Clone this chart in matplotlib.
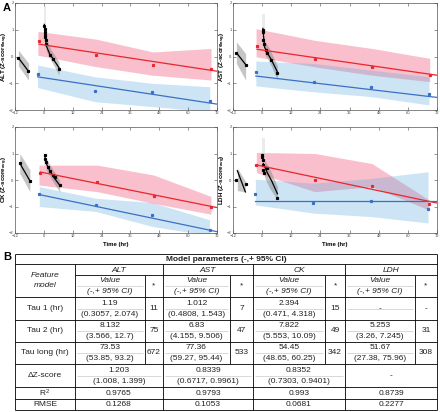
import matplotlib
matplotlib.use("Agg")
import matplotlib.pyplot as plt
import numpy as np

plt.rcParams['font.family'] = ['Liberation Sans', 'DejaVu Sans']
plt.rcParams['mathtext.default'] = 'regular'

# ---------------- data (panel A) ----------------
features = ["ALT", "AST", "CK", "LDH"]
x_ticks = [-12, 0, 12, 24, 36, 48, 60, 72]
y_ticks = [-2, -1, 0, 1, 2]

# pre-period segment (gray band + black line)
pre_t = {"ALT": [-10.6, -6.4], "AST": [-10.6, -6.8], "CK": [-10.0, -5.8], "LDH": [-10.2, -6.9]}
pre_y = {"ALT": [-0.05, -0.55], "AST": [0.14, -0.30], "CK": [0.63, -0.03], "LDH": [0.35, -0.45]}
pre_lo = {"ALT": [-0.35, -0.88], "AST": [-0.26, -0.88], "CK": [0.25, -0.44], "LDH": [-0.40, -0.45]}
pre_hi = {"ALT": [0.24, -0.25], "AST": [0.55, 0.11], "CK": [1.00, 0.38], "LDH": [0.45, -0.05]}
pre_pts_t = {"ALT": [-10.6, -6.4], "AST": [-10.6, -6.8], "CK": [-10.0, -5.8], "LDH": [-10.6, -6.5]}
pre_pts_y = {"ALT": [-0.05, -0.55], "AST": [0.14, -0.30], "CK": [0.63, -0.03], "LDH": [0.00, -0.15]}

# early black series (0-6 h)
blk_t = {
    "ALT": [0.2, 0.3, 0.4, 0.5, 0.6, 0.8, 1.0, 2.5, 3.8, 6.3],
    "AST": [0.2, 0.3, 0.5, 0.7, 1.5, 2.2, 3.8, 6.3],
    "CK": [0.3, 0.5, 0.7, 1.8, 2.6, 3.6, 4.6, 6.6],
    "LDH": [0.1, 0.1, 0.3, 0.3, 0.5, 0.6, 1.8, 6.2],
}
blk_y = {
    "ALT": [1.15, 1.02, 0.90, 0.82, 0.74, 0.62, 0.48, 0.05, -0.10, -0.45],
    "AST": [1.00, 0.92, 0.63, 0.48, 0.23, 0.14, -0.14, -0.60],
    "CK": [0.94, 0.81, 0.69, 0.50, 0.35, 0.19, 0.10, -0.19],
    "LDH": [0.96, 0.88, 0.75, 0.56, 0.38, 0.25, 0.44, -0.69],
}
blk_fit_t = {"ALT": [0.2, 1.0, 2.5, 3.8, 6.3], "AST": [0.3, 1.0, 2.2, 3.8, 6.3],
             "CK": [0.3, 1.0, 2.6, 4.0, 6.6], "LDH": [0.5, 2.0, 4.0, 6.3]}
blk_fit_y = {"ALT": [1.20, 0.40, 0.08, -0.08, -0.42], "AST": [1.05, 0.35, 0.12, -0.12, -0.58],
             "CK": [0.95, 0.62, 0.33, 0.12, -0.20], "LDH": [0.62, 0.30, -0.05, -0.52]}
blk_band_t = {"ALT": [1.0, 3.0, 6.3], "AST": [1.0, 3.0, 6.3], "CK": [1.0, 3.0, 6.6], "LDH": [1.0, 3.0, 6.3]}
blk_band_lo = {"ALT": [0.20, -0.15, -0.70], "AST": [0.10, -0.20, -0.88], "CK": [0.40, 0.05, -0.45], "LDH": [0.10, -0.30, -0.75]}
blk_band_hi = {"ALT": [0.70, 0.25, -0.20], "AST": [0.60, 0.30, -0.35], "CK": [0.80, 0.50, 0.00], "LDH": [0.75, 0.45, -0.25]}
spike_lo = {"ALT": 0.3, "AST": 0.3, "CK": 0.5, "LDH": 0.3}   # faint CI near t=0
spike_hi = {"ALT": 1.9, "AST": 1.6, "CK": 1.0, "LDH": 1.6}

# red group
red_t = {"ALT": [-2.0, 21.7, 45.3, 69.5], "AST": [-2.1, 21.9, 45.3, 69.0],
         "CK": [-1.4, 22.2, 45.6, 69.5], "LDH": [-2.4, 21.7, 45.2, 68.7]}
red_y = {"ALT": [0.57, 0.04, -0.30, -0.48], "AST": [0.40, -0.10, -0.39, -0.70],
         "CK": [0.28, -0.09, -0.59, -1.02], "LDH": [0.56, 0.00, -0.21, -0.91]}
red_fit_y0 = {"ALT": 0.46, "AST": 0.27, "CK": 0.30, "LDH": 0.57}
red_fit_y1 = {"ALT": -0.55, "AST": -0.70, "CK": -1.04, "LDH": -0.87}
red_band_t = {"ALT": [-2.5, 21.7, 45.3, 69.5], "AST": [-2.5, 21.9, 45.3, 69.0],
              "CK": [-2.0, 22.2, 45.6, 69.5], "LDH": [-2.4, 21.7, 45.2, 68.7]}
red_band_lo = {"ALT": [0.05, -0.38, -0.70, -0.88], "AST": [-0.01, -0.39, -0.70, -0.94],
               "CK": [-0.19, -0.44, -0.88, -1.29], "LDH": [0.28, -0.44, -0.25, -1.13]}
red_band_hi = {"ALT": [0.94, 0.65, 0.17, 0.30], "AST": [1.04, 0.60, 0.30, -0.07],
               "CK": [0.56, 0.56, 0.19, -0.62], "LDH": [1.04, 1.00, 0.62, -0.75]}

# blue group
blue_t = {"ALT": [-2.6, 21.3, 44.9, 69.0], "AST": [-2.6, 21.2, 44.9, 68.7],
          "CK": [-1.9, 21.7, 45.0, 68.9], "LDH": [-2.8, 21.1, 44.8, 68.3]}
blue_y = {"ALT": [-0.66, -1.28, -1.34, -1.65], "AST": [-0.58, -0.94, -1.13, -1.40],
          "CK": [-0.52, -0.94, -1.31, -1.88], "LDH": [-0.52, -0.88, -0.79, -1.09]}
blue_fit_y0 = {"ALT": -0.76, "AST": -0.73, "CK": -0.55, "LDH": -0.81}
blue_fit_y1 = {"ALT": -1.78, "AST": -1.53, "CK": -1.95, "LDH": -0.81}
blue_band_t = blue_t
blue_band_lo = {"ALT": [-1.16, -1.69, -1.87, -2.06], "AST": [-1.10, -1.32, -1.50, -1.81],
                "CK": [-1.00, -1.19, -1.75, -2.10], "LDH": [-0.94, -1.25, -1.38, -1.62]}
blue_band_hi = {"ALT": [-0.32, -0.76, -1.00, -1.13], "AST": [-0.17, -0.26, -0.51, -0.76],
                "CK": [-0.25, -0.69, -0.85, -1.50], "LDH": [0.03, -0.12, 0.06, 0.31]}

# ---------------- data (panel B table) ----------------
row_labels = ["Tau 1 (hr)", "Tau 2 (hr)", "Tau long (hr)", "\u0394Z-score", "R$^2$", "RMSE"]
tau1_val = ["1.19", "1.012", "2.394", "-"]
tau1_ci = ["(0.3057, 2.074)", "(0.4808, 1.543)", "(0.471, 4.318)", ""]
tau1_n = ["11", "7", "15", "-"]
tau2_val = ["8.132", "6.83", "7.822", "5.253"]
tau2_ci = ["(3.566, 12.7)", "(4.155, 9.506)", "(5.553, 10.09)", "(3.26, 7.245)"]
tau2_n = ["75", "47", "49", "31"]
taul_val = ["73.53", "77.36", "54.45", "51.67"]
taul_ci = ["(53.85, 93.2)", "(59.27, 95.44)", "(48.65, 60.25)", "(27.38, 75.96)"]
taul_n = ["672", "533", "342", "308"]
dz_val = ["1.203", "0.8339", "0.8352", "-"]
dz_ci = ["(1.008, 1.399)", "(0.6717, 0.9961)", "(0.7303, 0.9401)", ""]
r2_val = ["0.9765", "0.9793", "0.993", "0.8739"]
rmse_val = ["0.1268", "0.1053", "0.0681", "0.2277"]

# ---------------- figure ----------------
W, H = 440, 412
fig = plt.figure(figsize=(W / 100, H / 100), dpi=100)

RED = "#e8262b"
BLUE = "#3b6fc6"
PINK = "#f0446a"
LBLUE = "#5aa8dc"

pos_px = {"ALT": (15, 3, 202, 107), "AST": (233, 3, 204, 107),
          "CK": (15, 127, 202, 106), "LDH": (233, 127, 204, 106)}

for f in features:
    l, t, w, h = pos_px[f]
    ax = fig.add_axes([l / W, 1 - (t + h) / H, w / W, h / H])
    ax.set_xlim(x_ticks[0], x_ticks[-1])
    ax.set_ylim(y_ticks[0], y_ticks[-1])
    # pink / blue bands
    ax.fill_between(red_band_t[f], red_band_lo[f], red_band_hi[f], color=PINK, alpha=0.34, lw=0)
    ax.fill_between(blue_band_t[f], blue_band_lo[f], blue_band_hi[f], color=LBLUE, alpha=0.30, lw=0)
    # pre band
    ax.fill_between(pre_t[f], pre_lo[f], pre_hi[f], color="#808080", alpha=0.45, lw=0)
    ax.plot(pre_t[f], pre_y[f], color="black", lw=0.9)
    ax.plot(pre_pts_t[f], pre_pts_y[f], 's', color="black", ms=1.3)
    # early black
    ax.fill_between([0.0, 1.0], [spike_lo[f]] * 2, [spike_hi[f]] * 2, color="#c8c8c8", alpha=0.35, lw=0)
    ax.fill_between(blk_band_t[f], blk_band_lo[f], blk_band_hi[f], color="#808080", alpha=0.45, lw=0)
    ax.plot(blk_fit_t[f], blk_fit_y[f], color="black", lw=0.9)
    ax.plot(blk_t[f], blk_y[f], 's', color="black", ms=1.3)
    # fitted lines
    ax.plot([red_t[f][0], x_ticks[-1]], [red_fit_y0[f], red_fit_y1[f]], color=RED, lw=0.9)
    ax.plot([blue_t[f][0], x_ticks[-1]], [blue_fit_y0[f], blue_fit_y1[f]], color=BLUE, lw=0.9)
    ax.plot(red_t[f], red_y[f], 's', color=RED, ms=1.3)
    ax.plot(blue_t[f], blue_y[f], 's', color=BLUE, ms=1.3)

    ax.set_xticks(x_ticks)
    ax.set_yticks(y_ticks)
    ax.tick_params(direction="in", length=2, width=0.4, labelsize=3.0, pad=1.0,
                   top=True, right=True, colors="#444444")
    for s in ax.spines.values():
        s.set_linewidth(0.5)
        s.set_color("#555555")
    ax.set_ylabel(f + " (Z-score$_{avg}$)", fontsize=4.5, fontweight="bold")
    ax.yaxis.set_label_coords(-0.024, 0.5)
    if f in ("CK", "LDH"):
        ax.set_xlabel("Time (hr)", fontsize=4.3, fontweight="bold", labelpad=2.5)

fig.text(3 / W, 1 - 8 / H, "A", fontsize=8, fontweight="bold", va="center", ha="left")
fig.text(3 / W, 1 - 257 / H, "B", fontsize=8, fontweight="bold", va="center", ha="left")

# ---------------- table ----------------
tx = fig.add_axes([0, 0, 1, 1])
tx.set_xlim(0, W)
tx.set_ylim(H, 0)
tx.axis("off")

cols = [15, 75, 145, 163, 230, 253, 325, 345, 415, 437]
rows = [254, 264, 275, 297, 320, 342, 364, 387, 399, 410]
LW = 0.6
FS = 6.0
DARK = "#222222"
GRID = "#bbbbbb"

def hline(y, x0, x1, c="black", lw=LW):
    tx.plot([x0, x1], [y, y], color=c, lw=lw, solid_capstyle="butt")

def vline(x, y0, y1, c="black", lw=LW):
    tx.plot([x, x], [y0, y1], color=c, lw=lw, solid_capstyle="butt")

# outer box
hline(rows[0], cols[0], cols[-1])
hline(rows[-1], cols[0], cols[-1])
vline(cols[0], rows[0], rows[-1])
vline(cols[-1], rows[0], rows[-1])
# horizontal row lines
hline(rows[1], cols[0], cols[-1])
hline(rows[2], cols[1], cols[-1])
for r in rows[3:-1]:
    hline(r, cols[0], cols[-1])
# feature group verticals
for c in (cols[1], cols[3], cols[5], cols[7]):
    vline(c, rows[1], rows[-1])
# value/* split verticals in rows 3..6
for c in (cols[2], cols[4], cols[6], cols[8]):
    vline(c, rows[2], rows[6])

# faint inner separators
value_cols = [(cols[1], cols[2]), (cols[3], cols[4]), (cols[5], cols[6]), (cols[7], cols[8])]
group_cols = [(cols[1], cols[3]), (cols[3], cols[5]), (cols[5], cols[7]), (cols[7], cols[9])]
for (a, b) in value_cols:
    for r0, r1 in zip(rows[2:6], rows[3:7]):
        hline((r0 + r1) / 2, a + 2, b - 2, c=GRID, lw=0.4)
for (a, b) in group_cols[:3]:
    hline((rows[6] + rows[7]) / 2, a + 2, b - 2, c=GRID, lw=0.4)

def txt(x, y, s, **kw):
    tx.text(x, y, s, ha="center", va="center", fontsize=FS, color=DARK, **kw)

txt((cols[0] + cols[-1]) / 2, (rows[0] + rows[1]) / 2 + 0.5, "Model parameters (-,+ 95% CI)",
    fontweight="bold")
txt((cols[0] + cols[1]) / 2, (rows[1] + rows[3]) / 2, "Feature\nmodel", style="italic",
    linespacing=1.5)
for i, f in enumerate(features):
    a, b = group_cols[i]
    txt((a + b) / 2, (rows[1] + rows[2]) / 2 + 0.5, f, style="italic")
    va, vb = value_cols[i]
    cx = (va + vb) / 2
    sx = (vb + b) / 2
    q1 = rows[2] + (rows[3] - rows[2]) * 0.27
    q3 = rows[2] + (rows[3] - rows[2]) * 0.75
    txt(cx, q1, "Value", style="italic")
    txt(cx, q3, "(-,+ 95% CI)", style="italic")
    txt(sx, (rows[2] + rows[3]) / 2, "*")

tau_vals = [(tau1_val, tau1_ci, tau1_n), (tau2_val, tau2_ci, tau2_n), (taul_val, taul_ci, taul_n)]
for k, (vals, cis, ns) in enumerate(tau_vals):
    r0, r1 = rows[3 + k], rows[4 + k]
    txt((cols[0] + cols[1]) / 2, (r0 + r1) / 2, row_labels[k])
    for i in range(4):
        va, vb = value_cols[i]
        b = group_cols[i][1]
        cx = (va + vb) / 2
        if cis[i]:
            txt(cx, r0 + (r1 - r0) * 0.27, vals[i])
            txt(cx, r0 + (r1 - r0) * 0.75, cis[i])
        else:
            txt(cx, (r0 + r1) / 2, vals[i])
        txt((vb + b) / 2, (r0 + r1) / 2, ns[i])

r0, r1 = rows[6], rows[7]
txt((cols[0] + cols[1]) / 2, (r0 + r1) / 2, row_labels[3])
for i in range(4):
    a, b = group_cols[i]
    if dz_ci[i]:
        txt((a + b) / 2, r0 + (r1 - r0) * 0.27, dz_val[i])
        txt((a + b) / 2, r0 + (r1 - r0) * 0.75, dz_ci[i])
    else:
        txt((a + b) / 2, (r0 + r1) / 2, dz_val[i])

for k, vals in enumerate([r2_val, rmse_val]):
    r0, r1 = rows[7 + k], rows[8 + k]
    txt((cols[0] + cols[1]) / 2, (r0 + r1) / 2 + 0.5, row_labels[4 + k])
    for i in range(4):
        a, b = group_cols[i]
        txt((a + b) / 2, (r0 + r1) / 2 + 0.5, vals[i])

fig.savefig("out.png", dpi=100)
